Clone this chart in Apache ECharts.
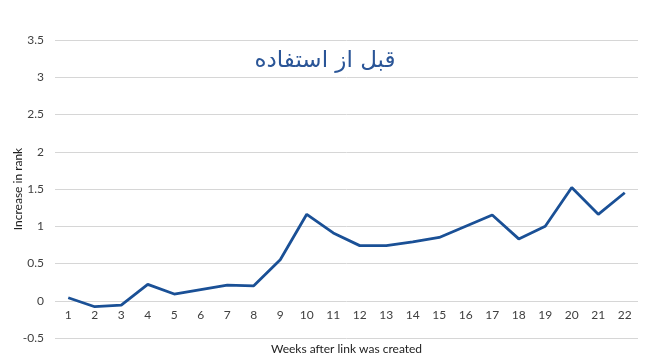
<!DOCTYPE html>
<html><head><meta charset="utf-8">
<script src="https://cdn.jsdelivr.net/npm/echarts@6/dist/echarts.min.js"></script>
<style>html,body{margin:0;padding:0;background:#fff}#c{width:650px;height:362px}</style>
</head><body><div id="c"></div>
<script>
const weeks = ['1','2','3','4','5','6','7','8','9','10','11','12','13','14','15','16','17','18','19','20','21','22'];
const rankIncrease = [0.04,-0.08,-0.06,0.22,0.09,0.15,0.21,0.20,0.55,1.16,0.91,0.74,0.74,0.79,0.85,1.0,1.15,0.83,1.0,1.52,1.16,1.45];
const titleText = 'قبل از استفاده';
const xName = 'Weeks after link was created';
const yName = 'Increase in rank';

const chart = echarts.init(document.getElementById('c'));
chart.setOption({
  animation:false,
  backgroundColor:'#fff',
  title:{text:titleText,left:'center',top:45,textStyle:{fontFamily:'DejaVu Sans',fontSize:23,fontWeight:'normal',color:'#2a5597'}},
  grid:{left:55,right:12,top:40,bottom:24,containLabel:false,outerBoundsMode:'none'},
  xAxis:{type:'category',data:weeks,boundaryGap:true,position:'bottom',offset:-37.5,
    axisLine:{show:false,onZero:false},
    axisTick:{show:false},
    axisLabel:{color:'#404040',fontFamily:'Lato',fontSize:12,margin:9},
    name:xName,nameLocation:'middle',nameGap:43,nameMoveOverlap:false,
    nameTextStyle:{color:'#222',fontFamily:'Lato',fontSize:12}},
  yAxis:{type:'value',min:-0.5,max:3.5,interval:0.5,
    axisLine:{show:false},axisTick:{show:false},
    axisLabel:{color:'#404040',fontFamily:'Lato',fontSize:12,margin:11},
    splitLine:{lineStyle:{color:'#d6d6d6'}},
    name:yName,nameLocation:'middle',nameGap:31,nameMoveOverlap:false,
    nameTextStyle:{color:'#222',fontFamily:'Lato',fontSize:12}},
  series:[{type:'line',data:rankIncrease,symbol:'none',
    lineStyle:{color:'#1a5096',width:2.8}}]
});
</script></body></html>
